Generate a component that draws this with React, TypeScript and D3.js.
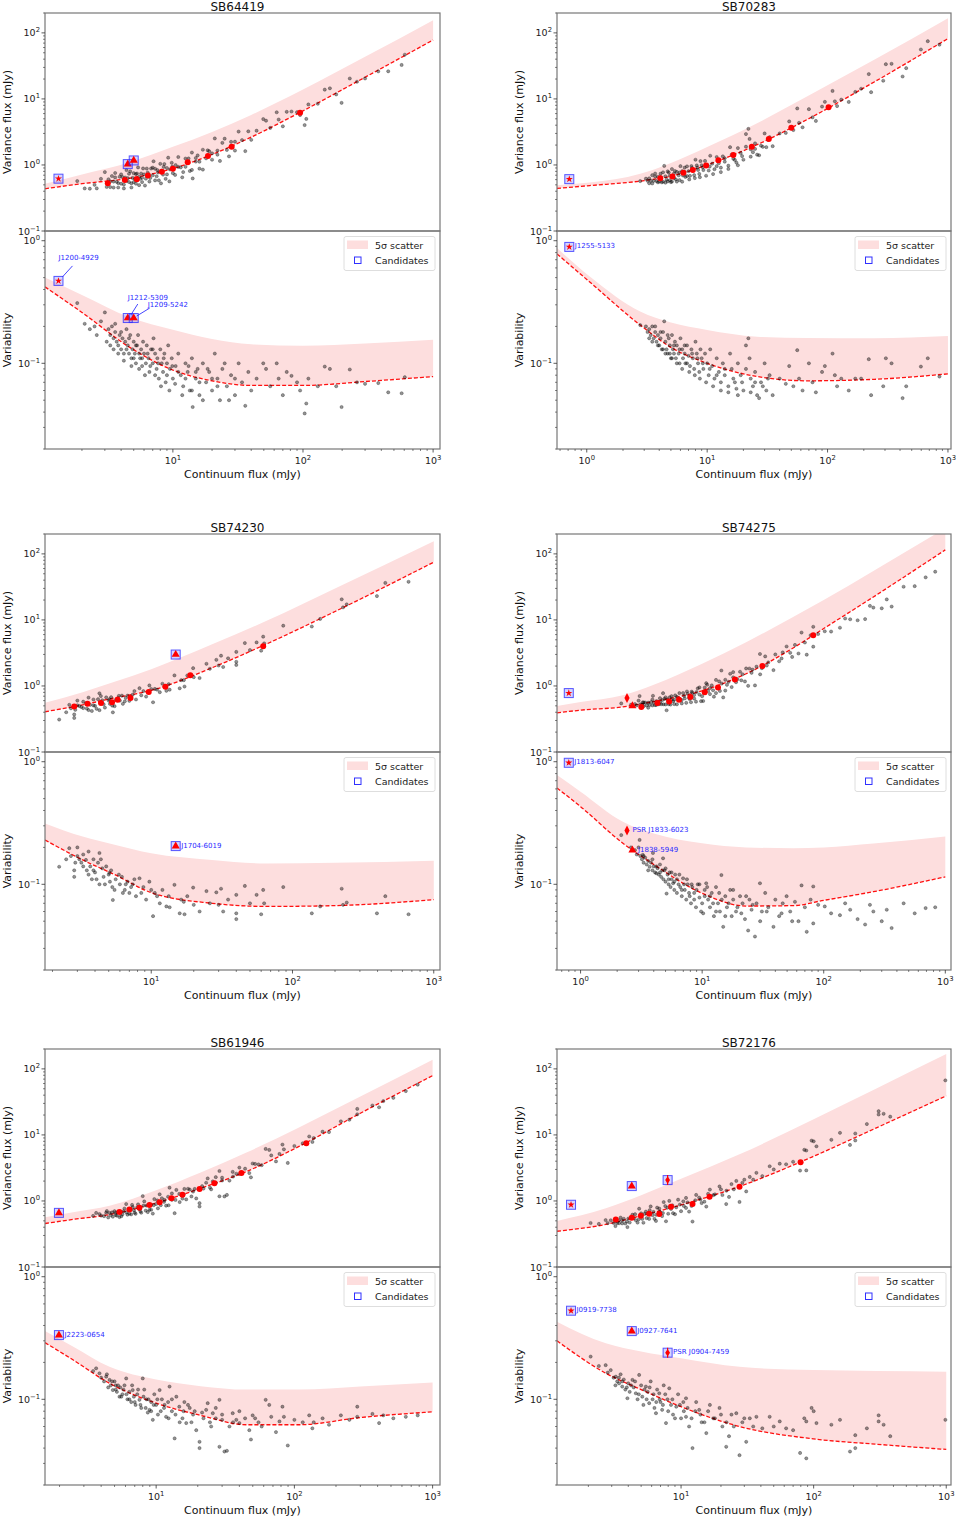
import React from "react";
import * as d3 from "d3";

const W = 958;
const H = 1520;
const FONT = "DejaVu Sans, Verdana, sans-serif";

const titles = ["SB64419", "SB70283", "SB74230", "SB74275", "SB61946", "SB72176"];

// x limits (continuum flux, mJy) of each panel
const xLimits = [
  [1.04, 1130],
  [0.566, 1060],
  [1.77, 1107],
  [0.64, 1114],
  [1.57, 1131],
  [1.16, 1086],
];

// median trend and 5 sigma upper edge, as variability, at curve x positions
const curveX1 = [1.04, 2, 4.66, 10, 20, 40, 100, 300, 1000];
const median1 = [0.42, 0.26, 0.135, 0.088, 0.072, 0.066, 0.066, 0.071, 0.078];
const band1 = [0.5, 0.36, 0.236, 0.188, 0.158, 0.143, 0.139, 0.145, 0.156];

const curveX2 = [0.566, 1.06, 2.78, 5, 10, 26, 68, 244, 1000];
const median2 = [0.78, 0.46, 0.205, 0.135, 0.1, 0.078, 0.072, 0.074, 0.082];
const band2 = [0.87, 0.51, 0.264, 0.215, 0.187, 0.165, 0.161, 0.16, 0.167];

const curveX3 = [1.77, 3.27, 5.5, 10, 27, 65, 200, 1000];
const median3 = [0.23, 0.158, 0.12, 0.0855, 0.07, 0.066, 0.067, 0.075];
const band3 = [0.314, 0.245, 0.21, 0.179, 0.158, 0.148, 0.15, 0.156];

const curveX4 = [0.64, 1, 2.23, 4, 10, 23, 56, 100, 256, 1000];
const median4 = [0.61, 0.43, 0.216, 0.145, 0.0845, 0.0665, 0.067, 0.074, 0.087, 0.115];
const band4 = [0.78, 0.57, 0.324, 0.26, 0.216, 0.2, 0.197, 0.2, 0.215, 0.245];

const curveX5 = [1.57, 2.5, 4.6, 10, 21, 45, 108, 300, 1000];
const median5 = [0.29, 0.21, 0.135, 0.093, 0.074, 0.062, 0.062, 0.071, 0.079];
const band5 = [0.36, 0.27, 0.184, 0.145, 0.128, 0.12, 0.12, 0.127, 0.137];

const curveX6 = [1.16, 2.71, 5, 10, 27.6, 100, 300, 1000];
const median6 = [0.3, 0.163, 0.12, 0.087, 0.06, 0.0475, 0.043, 0.039];
const band6 = [0.43, 0.286, 0.245, 0.216, 0.184, 0.173, 0.17, 0.168];

// field sources: [continuum flux, variability]; variance flux = flux * variability
const sources1 = [
  [1.84, 0.31], [2.1, 0.21], [2.3, 0.19], [2.5, 0.2], [2.6, 0.17], [2.8, 0.22], [3.0, 0.26], [3.2, 0.19],
  [3.3, 0.17], [3.4, 0.2], [3.5, 0.16], [3.6, 0.18], [3.7, 0.15], [3.8, 0.14], [3.9, 0.17], [4.0, 0.13],
  [4.1, 0.16], [4.2, 0.12], [4.3, 0.15], [4.4, 0.19], [4.5, 0.14], [4.6, 0.12], [4.7, 0.17], [4.8, 0.11],
  [4.9, 0.13], [5.0, 0.15], [5.1, 0.12], [5.2, 0.1], [5.3, 0.14], [5.4, 0.17], [5.5, 0.12], [5.6, 0.11],
  [5.7, 0.13], [5.8, 0.095], [5.9, 0.15], [6.0, 0.12], [6.2, 0.1], [6.3, 0.14], [6.5, 0.11], [6.6, 0.085],
  [6.8, 0.13], [7.0, 0.1], [7.1, 0.16], [7.3, 0.12], [7.5, 0.09], [7.6, 0.11], [7.8, 0.075], [8.0, 0.13],
  [8.2, 0.1], [8.4, 0.085], [8.6, 0.12], [8.8, 0.07], [9.0, 0.1], [9.2, 0.14], [9.5, 0.09], [9.8, 0.11],
  [10, 0.075], [10.5, 0.095], [11, 0.12], [11.5, 0.08], [12, 0.065], [12.5, 0.1], [13, 0.085], [13.5, 0.06],
  [14, 0.11], [14.2, 0.044], [15, 0.075], [15.5, 0.09], [16, 0.055], [17, 0.1], [18, 0.07], [19, 0.085],
  [20, 0.06], [21, 0.12], [22, 0.075], [23, 0.05], [24, 0.09], [26, 0.065], [28, 0.08], [30, 0.055],
  [32, 0.1], [34, 0.07], [36, 0.045], [38, 0.085], [40, 0.06], [44, 0.075], [49.5, 0.1], [52, 0.09],
  [56, 0.065], [62.8, 0.1], [65, 0.075], [70, 0.055], [75, 0.085], [81.6, 0.079], [90, 0.07], [95, 0.06],
  [103, 0.039], [106, 0.047], [110, 0.075], [130, 0.065], [147, 0.094], [161, 0.09], [180, 0.065],
  [198, 0.044], [229, 0.089], [260, 0.07], [300, 0.068], [379, 0.069], [452, 0.058], [573, 0.057], [606, 0.077],
  [3.1, 0.15], [3.3, 0.14], [3.5, 0.13], [3.6, 0.21], [3.8, 0.12], [4.0, 0.18], [4.2, 0.105], [4.4, 0.13],
  [4.6, 0.16], [4.8, 0.095], [5.0, 0.11], [5.2, 0.14], [5.5, 0.09], [5.8, 0.11], [6.1, 0.08], [6.4, 0.12],
  [6.7, 0.095], [7.0, 0.13], [7.3, 0.08], [7.7, 0.1], [8.1, 0.065], [8.5, 0.11], [9.0, 0.08], [9.4, 0.06],
  [9.9, 0.095], [10.4, 0.068], [11, 0.085], [11.8, 0.055], [12.5, 0.075], [13.2, 0.095], [14, 0.06],
  [15, 0.085], [16, 0.07], [17, 0.05], [18.5, 0.09], [20, 0.075], [22, 0.065], [25, 0.1], [27, 0.05], [30, 0.075],
];

const sources2 = [
  [2.78, 0.205], [3.1, 0.2], [3.2, 0.18], [3.3, 0.19], [3.4, 0.17], [3.5, 0.2], [3.6, 0.16], [3.7, 0.18],
  [3.8, 0.15], [3.9, 0.17], [4.0, 0.14], [4.1, 0.16], [4.2, 0.13], [4.3, 0.18], [4.4, 0.22], [4.5, 0.15],
  [4.6, 0.13], [4.7, 0.12], [4.8, 0.16], [4.9, 0.14], [5.0, 0.11], [5.1, 0.17], [5.2, 0.13], [5.3, 0.12],
  [5.4, 0.15], [5.5, 0.11], [5.6, 0.14], [5.8, 0.12], [5.9, 0.1], [6.0, 0.16], [6.2, 0.13], [6.3, 0.11],
  [6.5, 0.12], [6.6, 0.1], [6.8, 0.14], [7.0, 0.115], [7.2, 0.095], [7.4, 0.13], [7.6, 0.11], [7.8, 0.09],
  [8.0, 0.15], [8.2, 0.12], [8.4, 0.1], [8.6, 0.085], [8.8, 0.13], [9.0, 0.11], [9.3, 0.09], [9.6, 0.12],
  [10, 0.1], [10.3, 0.08], [10.6, 0.13], [11, 0.095], [11.5, 0.075], [12, 0.11], [12.5, 0.085], [13, 0.07],
  [13.5, 0.1], [14, 0.08], [15, 0.065], [15.5, 0.12], [16, 0.09], [17, 0.07], [17.5, 0.062], [18, 0.1],
  [19, 0.08], [20, 0.06], [21, 0.14], [22, 0.16], [22.5, 0.11], [23, 0.075], [24, 0.065], [25, 0.085],
  [26, 0.055], [28, 0.07], [30, 0.1], [31, 0.06], [33, 0.08], [35, 0.055], [40, 0.075], [45, 0.068],
  [48, 0.095], [52, 0.065], [56, 0.128], [58, 0.075], [62, 0.06], [70, 0.1], [75, 0.07], [80, 0.058],
  [90, 0.085], [95, 0.095], [110, 0.12], [115, 0.08], [120, 0.065], [130, 0.075], [150, 0.06], [170, 0.075],
  [190, 0.075], [220, 0.108], [230, 0.055], [290, 0.065], [305, 0.11], [340, 0.1], [420, 0.052], [450, 0.065],
  [596, 0.094], [680, 0.11], [850, 0.078],
  [3.3, 0.16], [3.5, 0.15], [3.7, 0.2], [3.9, 0.14], [4.1, 0.18], [4.3, 0.13], [4.5, 0.12], [4.7, 0.17],
  [4.9, 0.12], [5.1, 0.11], [5.3, 0.14], [5.6, 0.1], [5.9, 0.13], [6.2, 0.09], [6.5, 0.14], [6.8, 0.1],
  [7.1, 0.085], [7.5, 0.12], [7.9, 0.08], [8.3, 0.11], [8.7, 0.075], [9.2, 0.1], [9.8, 0.07], [10.5, 0.09],
  [11.2, 0.065], [12, 0.08], [13, 0.06], [14, 0.09], [15, 0.058], [16.5, 0.075], [18, 0.055], [19.5, 0.07],
  [21, 0.09], [23, 0.058], [25, 0.07], [27, 0.052], [29, 0.065], [32, 0.075],
];

const sources3 = [
  [2.23, 0.139], [2.63, 0.197], [2.7, 0.17], [2.85, 0.13], [2.85, 0.115], [3.0, 0.2], [3.0, 0.17], [3.1, 0.16],
  [3.2, 0.15], [3.3, 0.175], [3.45, 0.158], [3.5, 0.13], [3.6, 0.185], [3.7, 0.14], [3.8, 0.11], [3.9, 0.16],
  [4.0, 0.125], [4.2, 0.15], [4.3, 0.18], [4.3, 0.1], [4.5, 0.135], [4.6, 0.115], [4.8, 0.14], [5.0, 0.12],
  [5.06, 0.124], [5.1, 0.105], [5.3, 0.095], [5.35, 0.0745], [5.6, 0.11], [6.0, 0.1], [6.2, 0.115],
  [6.5, 0.09], [6.6, 0.1], [6.8, 0.105], [7.0, 0.085], [7.4, 0.1], [7.8, 0.08], [8.26, 0.112], [8.8, 0.095],
  [9.7, 0.105], [10.3, 0.055], [10.6, 0.085], [11.5, 0.07], [12.8, 0.066], [13.3, 0.08], [14.6, 0.099],
  [15.9, 0.058], [16.3, 0.075], [17.2, 0.057], [18, 0.08], [19.8, 0.094], [22, 0.06], [24.6, 0.088],
  [26, 0.07], [28.9, 0.086], [31.2, 0.092], [32.3, 0.06], [35, 0.075], [40, 0.082], [40, 0.058], [40, 0.052],
  [46, 0.097], [55.7, 0.082], [60, 0.057], [62, 0.09], [63, 0.07], [86, 0.095], [137, 0.058], [157, 0.066],
  [223, 0.092], [228, 0.068], [242, 0.071], [396, 0.058], [454, 0.08], [663, 0.057],
  [2.5, 0.16], [2.9, 0.15], [3.3, 0.14], [3.6, 0.12], [3.9, 0.13], [4.1, 0.11], [4.4, 0.16], [4.7, 0.1],
  [5.2, 0.13], [5.5, 0.09], [5.9, 0.12], [6.3, 0.085], [7.2, 0.095], [7.6, 0.11], [8.5, 0.085], [9.2, 0.075],
  [10, 0.09], [11, 0.08], [12, 0.09], [13.5, 0.065], [17, 0.072], [20, 0.068], [30, 0.068], [50, 0.07],
];

const sources4 = [
  [2.16, 0.252], [2.6, 0.2], [2.8, 0.19], [2.9, 0.175], [3.06, 0.23], [3.1, 0.17], [3.2, 0.16], [3.25, 0.174],
  [3.3, 0.15], [3.4, 0.165], [3.5, 0.145], [3.6, 0.155], [3.7, 0.139], [3.8, 0.15], [3.9, 0.13], [3.94, 0.18],
  [4.0, 0.14], [4.1, 0.125], [4.2, 0.123], [4.3, 0.135], [4.4, 0.12], [4.5, 0.145], [4.6, 0.115], [4.77, 0.163],
  [4.8, 0.11], [4.9, 0.13], [5.0, 0.105], [5.1, 0.084], [5.2, 0.12], [5.3, 0.1], [5.4, 0.125], [5.5, 0.095],
  [5.6, 0.11], [5.77, 0.102], [5.9, 0.09], [6.0, 0.12], [6.2, 0.085], [6.4, 0.1], [6.6, 0.095], [6.8, 0.08],
  [6.97, 0.112], [7.2, 0.09], [7.4, 0.075], [7.6, 0.1], [7.9, 0.08], [8.1, 0.07], [8.3, 0.095], [8.6, 0.085],
  [8.9, 0.065], [9.2, 0.1], [9.5, 0.078], [9.8, 0.06], [10.2, 0.058], [10.5, 0.09], [10.8, 0.102], [11.2, 0.075],
  [11.6, 0.065], [12, 0.085], [12.5, 0.055], [13, 0.095], [13.5, 0.07], [14, 0.06], [14.4, 0.119], [14.9, 0.045],
  [15.5, 0.08], [16, 0.065], [17, 0.09], [17.5, 0.055], [18, 0.075], [19, 0.06], [20.5, 0.08], [21.5, 0.07],
  [22.5, 0.052], [23.9, 0.042], [24.5, 0.075], [25.5, 0.062], [27.2, 0.0375], [28, 0.07], [29.9, 0.102],
  [31, 0.06], [33, 0.085], [35, 0.065], [38.6, 0.045], [40, 0.075], [43, 0.055], [46, 0.07], [49.5, 0.08],
  [53, 0.06], [58, 0.072], [62, 0.05], [65.7, 0.098], [70, 0.065], [72.5, 0.041], [78, 0.075], [82, 0.096],
  [82, 0.048], [90, 0.068], [102, 0.066], [115, 0.058], [136, 0.056], [150, 0.07], [165, 0.062], [190, 0.052],
  [219, 0.047], [240, 0.068], [256, 0.06], [300, 0.05], [330, 0.062], [362, 0.044], [454, 0.07], [560, 0.058],
  [689, 0.064], [826, 0.065],
  [3.0, 0.2], [3.3, 0.17], [3.6, 0.13], [3.9, 0.16], [4.2, 0.14], [4.5, 0.125], [4.7, 0.13], [5.0, 0.135],
  [5.3, 0.11], [5.6, 0.125], [5.9, 0.105], [6.2, 0.11], [6.5, 0.12], [6.8, 0.09], [7.1, 0.1], [7.5, 0.11],
  [7.8, 0.085], [8.2, 0.1], [8.6, 0.075], [9.0, 0.09], [9.5, 0.1], [10, 0.07], [10.5, 0.08], [11, 0.095],
  [11.6, 0.08], [12.3, 0.07], [13, 0.06], [13.8, 0.085], [14.5, 0.075], [15.5, 0.055], [16.5, 0.07], [18, 0.09],
  [19.5, 0.065], [21, 0.058], [23, 0.08], [26, 0.068], [30, 0.05], [34, 0.06], [45, 0.058], [55, 0.05],
];

const sources5 = [
  [3.5, 0.17], [3.68, 0.179], [3.89, 0.163], [4.0, 0.15], [4.2, 0.14], [4.35, 0.153], [4.5, 0.125], [4.6, 0.144],
  [4.7, 0.13], [4.86, 0.119], [5.0, 0.14], [5.1, 0.13], [5.2, 0.115], [5.43, 0.105], [5.5, 0.125], [5.7, 0.11],
  [5.8, 0.12], [6.07, 0.148], [6.2, 0.1], [6.4, 0.115], [6.6, 0.095], [6.77, 0.119], [6.9, 0.105], [7.1, 0.09],
  [7.3, 0.11], [7.57, 0.099], [7.8, 0.085], [8.0, 0.148], [8.2, 0.12], [8.5, 0.1], [8.7, 0.078], [8.95, 0.082],
  [9.2, 0.095], [9.46, 0.068], [9.7, 0.11], [10, 0.09], [10.3, 0.075], [10.6, 0.119], [11, 0.1], [11.4, 0.085],
  [11.8, 0.072], [12.2, 0.095], [12.5, 0.127], [13, 0.08], [13.6, 0.048], [14, 0.105], [14.7, 0.087],
  [15.5, 0.07], [16, 0.095], [16.5, 0.064], [17.5, 0.085], [18.5, 0.075], [19.5, 0.056], [20.6, 0.045],
  [20.6, 0.04], [21.5, 0.078], [23, 0.082], [23.6, 0.093], [24.5, 0.065], [25.7, 0.077], [27, 0.07],
  [28.7, 0.041], [28.7, 0.099], [30, 0.068], [31.2, 0.0375], [32.5, 0.038], [33.9, 0.06], [35.8, 0.077],
  [38, 0.068], [40, 0.064], [44, 0.07], [47.2, 0.056], [48.5, 0.047], [49.9, 0.074], [55, 0.065], [62, 0.099],
  [65.8, 0.09], [68, 0.072], [73.6, 0.054], [78, 0.066], [82, 0.087], [84, 0.072], [89.6, 0.042], [100, 0.068],
  [115, 0.065], [128, 0.074], [135, 0.058], [138, 0.065], [160, 0.07], [178, 0.062], [217, 0.074], [250, 0.068],
  [285, 0.087], [285, 0.072], [367, 0.076], [410, 0.064], [440, 0.074], [520, 0.07], [640, 0.072], [780, 0.074],
  [4.4, 0.16], [4.8, 0.14], [5.1, 0.12], [5.3, 0.13], [5.6, 0.105], [5.9, 0.13], [6.1, 0.11], [6.4, 0.1],
  [6.7, 0.13], [7.0, 0.095], [7.4, 0.12], [7.7, 0.09], [8.1, 0.105], [8.4, 0.085], [8.8, 0.1], [9.2, 0.08],
  [9.6, 0.09], [10.2, 0.1], [10.8, 0.08], [11.5, 0.09], [12.3, 0.07], [13, 0.1], [13.8, 0.075], [14.8, 0.065],
  [15.8, 0.08], [17, 0.09], [18, 0.065], [19, 0.08], [22, 0.07], [25, 0.06], [27, 0.085], [30, 0.075],
  [36, 0.065], [40, 0.08], [52, 0.07], [58, 0.06],
];

const sources6 = [
  [2.08, 0.223], [2.4, 0.187], [2.7, 0.19], [2.8, 0.165], [2.95, 0.173], [3.1, 0.15], [3.22, 0.153], [3.3, 0.14],
  [3.41, 0.135], [3.5, 0.16], [3.6, 0.127], [3.7, 0.145], [3.8, 0.12], [3.94, 0.102], [4.0, 0.135], [4.1, 0.115],
  [4.3, 0.144], [4.4, 0.125], [4.56, 0.112], [4.7, 0.1], [4.83, 0.158], [5.0, 0.13], [5.1, 0.105], [5.2, 0.09],
  [5.43, 0.127], [5.6, 0.115], [5.75, 0.093], [5.9, 0.14], [6.1, 0.1], [6.3, 0.085], [6.47, 0.077], [6.6, 0.12],
  [6.85, 0.112], [7.0, 0.095], [7.2, 0.082], [7.4, 0.13], [7.7, 0.064], [7.9, 0.1], [8.15, 0.123], [8.4, 0.09],
  [8.7, 0.075], [9.2, 0.087], [9.5, 0.11], [10, 0.07], [10.4, 0.095], [10.9, 0.072], [10.9, 0.102], [11.5, 0.06],
  [12.2, 0.04], [12.8, 0.08], [13.7, 0.082], [14.3, 0.065], [15.5, 0.053], [16.5, 0.09], [17.5, 0.07],
  [19.5, 0.085], [20.5, 0.06], [21.9, 0.041], [23, 0.05], [24, 0.075], [26.1, 0.077], [27.6, 0.035], [29, 0.065],
  [31, 0.045], [33, 0.07], [37, 0.072], [41, 0.058], [46.6, 0.072], [50, 0.06], [55.5, 0.066], [62, 0.058],
  [70, 0.056], [79, 0.0365], [85, 0.07], [88, 0.066], [88, 0.033], [96.5, 0.085], [100, 0.08], [105, 0.064],
  [136, 0.062], [158, 0.068], [188, 0.0375], [206, 0.051], [206, 0.04], [252, 0.058], [309, 0.074], [309, 0.066],
  [337, 0.062], [378, 0.05], [985, 0.068],
  [3.2, 0.13], [3.4, 0.15], [3.6, 0.14], [3.9, 0.125], [4.2, 0.13], [4.5, 0.14], [4.8, 0.11], [5.3, 0.12],
  [5.5, 0.1], [5.8, 0.125], [6.2, 0.11], [6.5, 0.095], [6.9, 0.1], [7.3, 0.09], [7.6, 0.11], [8.0, 0.08],
  [8.6, 0.1], [9.0, 0.07], [9.8, 0.09], [10.5, 0.08], [11.2, 0.085], [12, 0.07], [13, 0.095], [14, 0.075],
  [15, 0.065], [16, 0.08], [18, 0.07], [20, 0.075], [22, 0.065], [25, 0.06], [30, 0.07], [35, 0.06],
];

// binned medians in the variance plot: [continuum flux, variance flux]
const bins1 = [[3.16, 0.53], [4.27, 0.59], [5.28, 0.61], [6.43, 0.69], [8.23, 0.79], [10, 0.88], [13, 1.1], [18.6, 1.37], [28.3, 1.89], [95, 6.2]];
const bins2 = [[4.08, 0.63], [5.15, 0.67], [6.35, 0.76], [7.6, 0.84], [9.8, 0.98], [12.4, 1.18], [16.5, 1.42], [23.5, 1.88], [32.5, 2.47], [50, 3.65], [102, 7.5]];
const bins3 = [[2.85, 0.49], [3.54, 0.54], [4.41, 0.55], [5.28, 0.566], [5.79, 0.62], [7.13, 0.66], [9.6, 0.81], [12.6, 0.97], [18.9, 1.45], [62, 3.99]];
const bins4 = [[3.16, 0.48], [4.29, 0.55], [5.35, 0.58], [6.45, 0.62], [8.0, 0.68], [10.5, 0.8], [13.5, 0.945], [18.6, 1.25], [31.3, 2.0], [82, 5.86]];
const bins5 = [[5.43, 0.68], [6.41, 0.74], [7.57, 0.79], [8.95, 0.87], [10.6, 0.96], [12.9, 1.1], [15.5, 1.24], [20.6, 1.52], [26.4, 1.85], [41.4, 2.65], [122, 7.5]];
const bins6 = [[3.22, 0.526], [4.25, 0.557], [4.98, 0.597], [5.75, 0.64], [6.85, 0.633], [8.4, 0.817], [12.2, 0.897], [16.4, 1.16], [27.6, 1.64], [79.7, 3.84]];

// candidates: name, continuum flux, variance flux, variability, marker, boxed
const candidates1 = [
  ["J1200-4929", 1.32, 0.62, 0.47, "star", true],
  ["J1212-5309", 4.5, 1.03, 0.234, "triangle", true],
  ["J1209-5242", 5.0, 1.17, 0.234, "triangle", true],
];
const candidates2 = [["J1255-5133", 0.716, 0.61, 0.89, "star", true]];
const candidates3 = [["J1704-6019", 14.9, 2.99, 0.205, "triangle", true]];
const candidates4 = [
  ["J1813-6047", 0.8, 0.78, 0.98, "star", true],
  ["PSR J1833-6023", 2.41, 0.66, 0.275, "diamond", false],
  ["J1838-5949", 2.67, 0.5, 0.19, "triangle", false],
];
const candidates5 = [["J2223-0654", 1.98, 0.66, 0.334, "triangle", true]];
const candidates6 = [
  ["J0919-7738", 1.48, 0.876, 0.528, "star", true],
  ["J0927-7641", 4.25, 1.68, 0.36, "triangle", true],
  ["PSR J0904-7459", 7.92, 2.07, 0.24, "pulsar", true],
];

const legendLabels = ["5σ scatter", "Candidates"];

// label placement (pixels from the marker), arrows for the crowded first panel
const labelOffsets: Record<string, number[]> = {
  "J1200-4929": [0, -23, 14, -15, 4, -4],
  "J1212-5309": [0, -21, 10, -14, 3, -3],
  "J1209-5242": [14, -14, 16, -10, 3, -2],
};

const panels = [0, 1, 2, 3, 4, 5].map((i) => ({
  title: titles[i],
  xlim: xLimits[i],
  curveX: [curveX1, curveX2, curveX3, curveX4, curveX5, curveX6][i],
  median: [median1, median2, median3, median4, median5, median6][i],
  band: [band1, band2, band3, band4, band5, band6][i],
  sources: [sources1, sources2, sources3, sources4, sources5, sources6][i],
  bins: [bins1, bins2, bins3, bins4, bins5, bins6][i],
  candidates: [candidates1, candidates2, candidates3, candidates4, candidates5, candidates6][i],
}));

const colX = [[45, 440], [557, 951]];
const rowTop = [13, 534, 1049];
const SUB_H = 218;
const BAND = "#fddede";

function logTicks(lo: number, hi: number) {
  const major: number[] = [];
  const minor: number[] = [];
  for (let e = Math.floor(Math.log10(lo)) - 1; e <= Math.ceil(Math.log10(hi)); e++) {
    for (let k = 1; k < 10; k++) {
      const v = k * Math.pow(10, e);
      if (v < lo * 0.9999 || v > hi * 1.0001) continue;
      (k === 1 ? major : minor).push(v);
    }
  }
  return { major, minor };
}

function PowLabel({ x, y, v, anchor }: any) {
  const e = Math.round(Math.log10(v));
  return (
    <text x={x} y={y} textAnchor={anchor} fontSize={9.5} fill="#222" fontFamily={FONT}>
      10<tspan dy={-4} fontSize={6.8}>{e < 0 ? "\u2212" + -e : e}</tspan>
    </text>
  );
}

function RedMarker({ kind, cx, cy }: any) {
  if (kind === "star") {
    return <path d={d3.symbol(d3.symbolStar, 16)()!} transform={`translate(${cx},${cy})`} fill="#ff0000" />;
  }
  if (kind === "triangle") {
    return <path d={d3.symbol(d3.symbolTriangle, 28)()!} transform={`translate(${cx},${cy})`} fill="#ff0000" />;
  }
  if (kind === "diamond") {
    return <path d="M0,-5L2.6,0L0,5L-2.6,0Z" transform={`translate(${cx},${cy})`} fill="#ff0000" />;
  }
  return (
    <g transform={`translate(${cx},${cy})`}>
      <line x1={0} x2={0} y1={-5} y2={5} stroke="#ff0000" strokeWidth={1.2} />
      <path d="M0,-3.8L2.4,0L0,3.8L-2.4,0Z" fill="#ff0000" />
    </g>
  );
}

function Panel({ p, idx, left, right, top }: any) {
  const x = d3.scaleLog().domain(p.xlim).range([left, right]);
  const yU = d3.scaleLog().domain([0.1, 200]).range([top + SUB_H, top]);
  const yL = d3.scaleLog().domain([0.02, 1.2]).range([top + 2 * SUB_H, top + SUB_H]);
  const curve = p.curveX.map((cx: number, i: number) => ({ x: cx, m: p.median[i], b: p.band[i] }));

  const areaU = d3.area<any>().x((d) => x(d.x)).y0((d) => yU(d.x * d.m)).y1((d) => yU(d.x * d.b)).curve(d3.curveMonotoneX);
  const lineU = d3.line<any>().x((d) => x(d.x)).y((d) => yU(d.x * d.m)).curve(d3.curveMonotoneX);
  const areaL = d3.area<any>().x((d) => x(d.x)).y0((d) => yL(d.m)).y1((d) => yL(d.b)).curve(d3.curveMonotoneX);
  const lineL = d3.line<any>().x((d) => x(d.x)).y((d) => yL(d.m)).curve(d3.curveMonotoneX);

  const xt = logTicks(p.xlim[0], p.xlim[1]);
  const ytU = logTicks(0.1, 200);
  const ytL = logTicks(0.02, 1.2);
  const bottom = top + 2 * SUB_H;
  const mid = (left + right) / 2;
  const clipU = `clipU${idx}`;
  const clipL = `clipL${idx}`;

  const yAxis = (ticks: any, ys: any) => (
    <g>
      {ticks.minor.map((v: number) => (
        <line key={"n" + v} x1={left - 2} x2={left} y1={ys(v)} y2={ys(v)} stroke="#333" strokeWidth={0.6} />
      ))}
      {ticks.major.map((v: number) => (
        <g key={"j" + v}>
          <line x1={left - 3.5} x2={left} y1={ys(v)} y2={ys(v)} stroke="#333" strokeWidth={0.8} />
          <PowLabel x={left - 5} y={ys(v) + 3.5} v={v} anchor="end" />
        </g>
      ))}
    </g>
  );

  const dots = (ys: any, upper: boolean) =>
    p.sources.map((s: number[], i: number) => (
      <circle key={i} cx={x(s[0])} cy={ys(upper ? s[0] * s[1] : s[1])} r={1.6} fill="#000" fillOpacity={0.42}
        stroke="#000" strokeOpacity={0.55} strokeWidth={0.5} />
    ));

  const candMarks = (ys: any, key: number) =>
    p.candidates.map((c: any) => {
      const cx = x(c[1]);
      const cy = ys(c[key]);
      return (
        <g key={c[0]}>
          {c[5] && (
            <rect x={cx - 4.5} y={cy - 4.5} width={9} height={9} fill="#4040ff" fillOpacity={0.22}
              stroke="#3030ff" strokeOpacity={0.8} strokeWidth={1} />
          )}
          <RedMarker kind={c[4]} cx={cx} cy={cy} />
        </g>
      );
    });

  const lx = right - 96;
  const ly = top + SUB_H + 5.5;

  return (
    <g>
      <defs>
        <clipPath id={clipU}><rect x={left} y={top} width={right - left} height={SUB_H} /></clipPath>
        <clipPath id={clipL}><rect x={left} y={top + SUB_H} width={right - left} height={SUB_H} /></clipPath>
      </defs>

      {/* variance flux */}
      <g clipPath={`url(#${clipU})`}>
        <path d={areaU(curve)!} fill={BAND} />
        <path d={lineU(curve)!} fill="none" stroke="#ff1010" strokeWidth={1.3} strokeDasharray="4 2" />
        {dots(yU, true)}
        {p.bins.map((b: number[], i: number) => (
          <circle key={"b" + i} cx={x(b[0])} cy={yU(b[1])} r={3} fill="#ff0000" />
        ))}
        {candMarks(yU, 2)}
      </g>

      {/* variability */}
      <g clipPath={`url(#${clipL})`}>
        <path d={areaL(curve)!} fill={BAND} />
        <path d={lineL(curve)!} fill="none" stroke="#ff1010" strokeWidth={1.3} strokeDasharray="4 2" />
        {dots(yL, false)}
        {candMarks(yL, 3)}
      </g>

      {p.candidates.map((c: any) => {
        const cx = x(c[1]);
        const cy = yL(c[3]);
        const o = labelOffsets[c[0]];
        if (o) {
          return (
            <g key={"l" + c[0]}>
              <line x1={cx + o[2]} y1={cy + o[3]} x2={cx + o[4]} y2={cy + o[5]} stroke="#3030ff" strokeWidth={0.9} />
              <text x={cx + o[0]} y={cy + o[1] + 2.5} fontSize={7} fill="#2a2aff" fontFamily={FONT}>{c[0]}</text>
            </g>
          );
        }
        return (
          <text key={"l" + c[0]} x={cx + 5.5} y={cy + 1.5} fontSize={7} fill="#2a2aff" fontFamily={FONT}>{c[0]}</text>
        );
      })}

      {/* frames */}
      <rect x={left} y={top} width={right - left} height={SUB_H} fill="none" stroke="#777" strokeWidth={1.2} />
      <rect x={left} y={top + SUB_H} width={right - left} height={SUB_H} fill="none" stroke="#777" strokeWidth={1.2} />

      {yAxis(ytU, yU)}
      {yAxis(ytL, yL)}

      {/* x axis */}
      {xt.minor.map((v: number) => (
        <line key={"xn" + v} x1={x(v)} x2={x(v)} y1={bottom} y2={bottom + 2} stroke="#333" strokeWidth={0.6} />
      ))}
      {xt.major.map((v: number) => (
        <g key={"xj" + v}>
          <line x1={x(v)} x2={x(v)} y1={bottom} y2={bottom + 3.5} stroke="#333" strokeWidth={0.8} />
          <PowLabel x={x(v)} y={bottom + 15} v={v} anchor="middle" />
        </g>
      ))}

      {/* legend */}
      <rect x={lx} y={ly} width={91} height={34} rx={2} fill="#fff" fillOpacity={0.85} stroke="#d6d6d6" strokeWidth={0.8} />
      <rect x={lx + 3} y={ly + 4} width={21} height={8.5} fill={BAND} />
      <rect x={lx + 10.5} y={ly + 20.5} width={6.5} height={6.5} fill="none" stroke="#3030ff" strokeWidth={1} />
      <text x={lx + 31} y={ly + 12} fontSize={9.5} fill="#222" fontFamily={FONT}>{legendLabels[0]}</text>
      <text x={lx + 31} y={ly + 27.5} fontSize={9.5} fill="#222" fontFamily={FONT}>{legendLabels[1]}</text>

      {/* labels */}
      <text x={mid - 5} y={top - 2.5} textAnchor="middle" fontSize={12} fill="#111" fontFamily={FONT}>{p.title}</text>
      <text x={mid} y={bottom + 29} textAnchor="middle" fontSize={11} fill="#111" fontFamily={FONT}>Continuum flux (mJy)</text>
      <text transform={`translate(${left - 34},${top + SUB_H / 2}) rotate(-90)`} textAnchor="middle" fontSize={11}
        fill="#111" fontFamily={FONT}>Variance flux (mJy)</text>
      <text transform={`translate(${left - 34},${top + SUB_H * 1.5}) rotate(-90)`} textAnchor="middle" fontSize={11}
        fill="#111" fontFamily={FONT}>Variability</text>
    </g>
  );
}

export default function App() {
  return (
    <svg width={W} height={H} viewBox={`0 0 ${W} ${H}`} style={{ position: "absolute", left: 0, top: 0, background: "#fff" }}>
      <rect width={W} height={H} fill="#fff" />
      {panels.map((p, i) => (
        <Panel key={i} p={p} idx={i} left={colX[i % 2][0]} right={colX[i % 2][1]} top={rowTop[Math.floor(i / 2)]} />
      ))}
    </svg>
  );
}
